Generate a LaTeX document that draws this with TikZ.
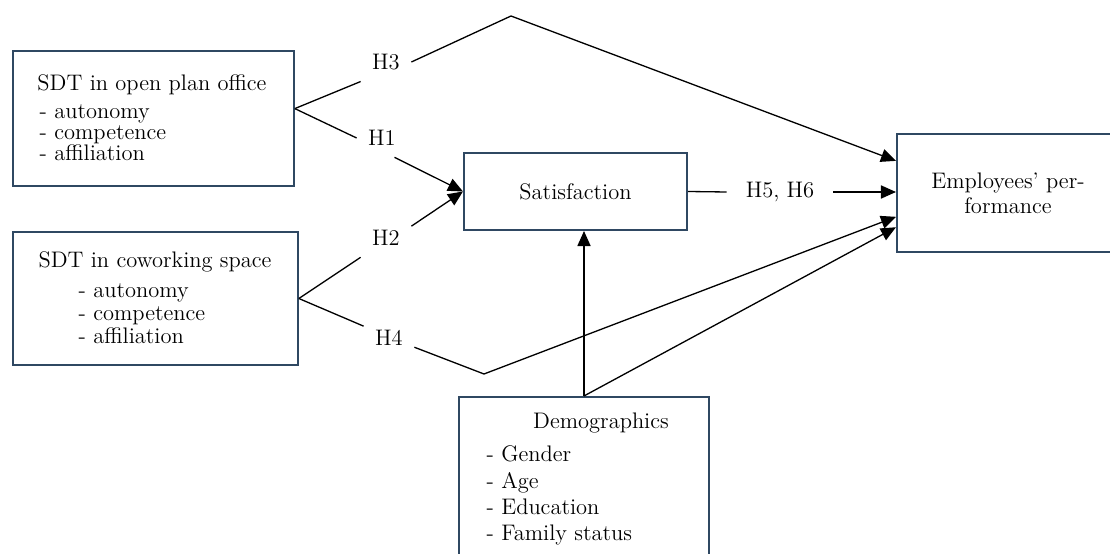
\documentclass[tikz,border=0pt]{standalone}
\usepackage{tikz}
\usetikzlibrary{arrows.meta, positioning}
\definecolor{boxblue}{RGB}{47,72,98}
\newcommand{\pxl}{0.01875cm}

\begin{document}
\begin{tikzpicture}[x=0.01875cm, y=-0.01875cm, >={Triangle[length=8pt,width=7pt]},
  every node/.style={font=\fontsize{12}{13}\selectfont},
  box/.style={draw=boxblue, line width=1.1pt, inner sep=0pt},
  hlab/.style={inner sep=6pt},
  link/.style={line width=0.7pt}]

\useasboundingbox (0,0) rectangle (1110,554);
\clip (0,0) rectangle (1110,554);

% Left boxes
\node[box, minimum width=281*\pxl, minimum height=135*\pxl] (open) at (153.3,118.5) {};
\node (opentitle) at (152,85) {SDT in open plan office};
\node[anchor=west, align=left, font=\fontsize{12}{11.2}\selectfont] (openlist) at (33,133) {- autonomy\\- competence\\- affiliation};

\node[box, minimum width=285*\pxl, minimum height=133*\pxl] (cowork) at (155.3,298.5) {};
\node (coworktitle) at (155,262) {SDT in coworking space};
\node[anchor=west, align=left, font=\fontsize{12}{12.2}\selectfont] (coworklist) at (72,314) {- autonomy\\- competence\\- affiliation};

% Middle boxes
\node[box, minimum width=223*\pxl, minimum height=77*\pxl] (sat) at (575.5,191.5) {Satisfaction};

\node[box, minimum width=250*\pxl, minimum height=183*\pxl] (demo) at (584,488.5) {};
\node (demotitle) at (601,423) {Demographics};
\node[anchor=west, align=left, font=\fontsize{12}{14}\selectfont] (demolist) at (480,495.5) {- Gender\\- Age\\- Education\\- Family status};

% Right box
\node[box, minimum width=222*\pxl, minimum height=118*\pxl, align=center, font=\fontsize{12}{13.3}\selectfont] (perf) at (1008,193) {Employees' per-\\formance};

% Hypotheses
\node[hlab] (h3) at (386,62) {H3};
\node[hlab] (h1) at (382,138) {H1};
\node[hlab] (h2) at (386,238) {H2};
\node[hlab] (h4) at (389,338) {H4};
\node[hlab, inner xsep=10pt] (h56) at (780,192) {H5, H6};

\coordinate (peak) at (511,16);
\coordinate (dip) at (484,374);

% Paths
\draw[link] (open.4) -- (h3.south west);
\draw[link, ->] (h3.east) -- (peak) -- (perf.164);
\draw[link] (open.4) -- (h1.west);
\draw[link, ->] (h1.-57) -- (sat.west);

\draw[link] (cowork.east) -- (h2.south west);
\draw[link, ->] (h2.25) -- (sat.west);
\draw[link] (cowork.east) -- (h4.155);
\draw[link, ->] (h4.-20) -- (dip) -- (perf.192);

\draw[link] (sat.east) -- (h56.west);
\draw[link, ->] (h56.east) -- (h56.east -| perf.west);

\draw[link, ->] (demo.north) -- (demo.north |- sat.south);
\draw[link, ->] (demo.north) -- (perf.197);

\end{tikzpicture}
\end{document}
